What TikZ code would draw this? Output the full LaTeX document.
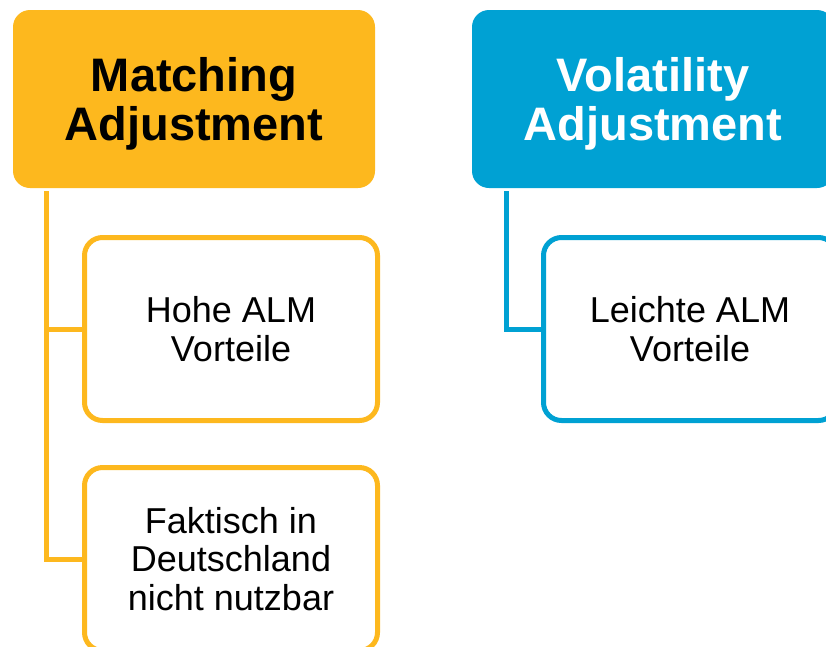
\documentclass[tikz,border=0pt]{standalone}
\usepackage{fontspec}
\setmainfont{Liberation Sans}
\usetikzlibrary{positioning}
\definecolor{maorange}{RGB}{253,184,30}
\definecolor{vablue}{RGB}{0,161,211}
\tikzset{
  header/.style={rectangle,rounded corners=17pt,minimum width=362pt,minimum height=178pt,inner sep=0pt,text depth=0pt,align=center,font=\fontsize{47}{49}\selectfont\bfseries},
  item/.style={rectangle,rounded corners=18pt,draw,line width=5pt,fill=white,minimum width=293pt,minimum height=183pt,inner sep=0pt,align=center,font=\fontsize{36}{38.5}\selectfont},
  spine/.style={line width=5pt}
}

\begin{document}
\begin{tikzpicture}[x=1pt,y=-1pt]
\useasboundingbox (0,0) rectangle (826,646);
\clip (0,0) rectangle (826,646);
\node[header,fill=maorange] (mahead) at (194,99) {Matching\\Adjustment};
\node[header,fill=vablue,text=white] (vahead) at (653,99) {Volatility\\Adjustment};
\node[item,draw=maorange] (mahohe) at (231,329) {Hohe ALM\\Vorteile};
\node[item,draw=maorange] (mafakt) at (231,559) {Faktisch in\\Deutschland\\nicht nutzbar};
\node[item,draw=vablue] (valeicht) at (690,329) {Leichte ALM\\Vorteile};
\draw[spine,maorange] ([xshift=34pt,yshift=-3pt]mahead.south west) |- (mahohe.west);
\draw[spine,maorange] ([xshift=34pt,yshift=-3pt]mahead.south west) |- (mafakt.west);
\draw[spine,vablue] ([xshift=35pt,yshift=-3pt]vahead.south west) |- (valeicht.west);
\end{tikzpicture}
\end{document}
